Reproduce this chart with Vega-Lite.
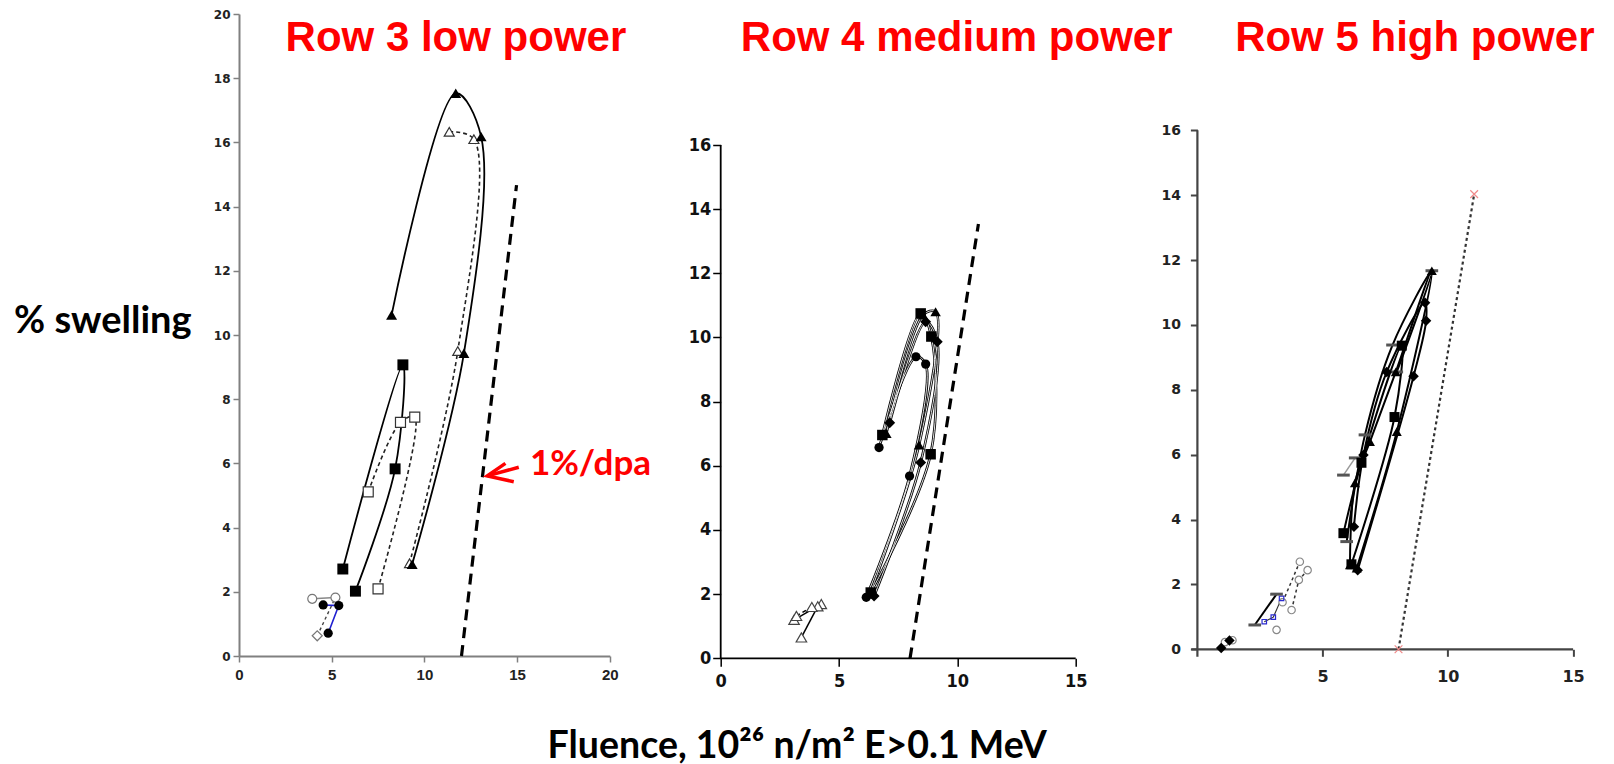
{
  "$schema": "https://vega.github.io/schema/vega-lite/v6.json",
  "background": "white",
  "padding": {"left": 13, "top": 8, "right": 0, "bottom": 0},
  "autosize": {"type": "pad"},
  "config": {"view": {"stroke": null}, "axis": {"grid": false}},
  "bounds": "flush",
  "spacing": 110.7,
  "datasets": {
    "p1": [
      {"s": "ft", "i": 0, "x": 8.23, "y": 10.62},
      {"s": "ft", "i": 1, "x": 11.69, "y": 17.53},
      {"s": "ft", "i": 2, "x": 13.06, "y": 16.18},
      {"s": "ft", "i": 3, "x": 12.13, "y": 9.43},
      {"s": "ft", "i": 4, "x": 9.34, "y": 2.86},
      {"s": "ot", "i": 0, "x": 11.34, "y": 16.33},
      {"s": "ot", "i": 1, "x": 12.67, "y": 16.1},
      {"s": "ot", "i": 2, "x": 11.8, "y": 9.5},
      {"s": "ot", "i": 3, "x": 9.2, "y": 2.89},
      {"s": "fs", "i": 0, "x": 5.6, "y": 2.71},
      {"s": "fs", "i": 1, "x": 8.84, "y": 9.07},
      {"s": "fs", "i": 2, "x": 8.42, "y": 5.83},
      {"s": "fs", "i": 3, "x": 6.28, "y": 2.02},
      {"s": "os", "i": 0, "x": 6.97, "y": 5.11},
      {"s": "os", "i": 1, "x": 8.71, "y": 7.28},
      {"s": "os", "i": 2, "x": 9.48, "y": 7.44},
      {"s": "os", "i": 3, "x": 7.5, "y": 2.09},
      {"s": "fc", "i": 0, "x": 4.54, "y": 1.59},
      {"s": "fc", "i": 1, "x": 5.38, "y": 1.57},
      {"s": "fc", "i": 2, "x": 4.81, "y": 0.71},
      {"s": "oc", "i": 0, "x": 3.95, "y": 1.78},
      {"s": "oc", "i": 1, "x": 5.2, "y": 1.82},
      {"s": "od", "i": 0, "x": 4.22, "y": 0.63},
      {"s": "od", "i": 1, "x": 5.2, "y": 1.82}
    ],
    "p1dpa": [{"x": 12.0, "y": 0}, {"x": 14.97, "y": 14.67}],
    "p1arrow": [
      {"s": "a1", "i": 0, "x": 14.37, "y": 6.0},
      {"s": "a1", "i": 1, "x": 13.39, "y": 5.61},
      {"s": "a1", "i": 2, "x": 14.82, "y": 5.43},
      {"s": "a2", "i": 0, "x": 13.39, "y": 5.61},
      {"s": "a2", "i": 1, "x": 15.09, "y": 5.88}
    ],
    "p1label": [{"x": 15.69, "y": 5.64, "t": "1%/dpa"}],
    "p1title": [{"x": 11.7, "y": 18.86, "t": "Row 3 low power"}],
    "p2title": [{"x": 9.97, "y": 18.94, "t": "Row 4 medium power"}],
    "p3title": [{"x": 8.68, "y": 18.45, "t": "Row 5 high power"}],
    "p2": [
      {"s": "C", "i": 0, "x": 6.69, "y": 6.57},
      {"s": "C", "i": 1, "x": 8.25, "y": 9.4},
      {"s": "C", "i": 2, "x": 8.66, "y": 9.17},
      {"s": "C", "i": 3, "x": 7.98, "y": 5.68},
      {"s": "C", "i": 4, "x": 6.15, "y": 1.9},
      {"s": "S", "i": 0, "x": 6.83, "y": 6.96},
      {"s": "S", "i": 1, "x": 8.45, "y": 10.75},
      {"s": "S", "i": 2, "x": 8.9, "y": 10.03},
      {"s": "S", "i": 3, "x": 8.87, "y": 6.36},
      {"s": "S", "i": 4, "x": 6.34, "y": 2.05},
      {"s": "T", "i": 0, "x": 7.0, "y": 7.01},
      {"s": "T", "i": 1, "x": 8.55, "y": 10.7},
      {"s": "T", "i": 2, "x": 9.08, "y": 10.8},
      {"s": "T", "i": 3, "x": 8.38, "y": 6.65},
      {"s": "T", "i": 4, "x": 6.3, "y": 2.0},
      {"s": "D", "i": 0, "x": 7.14, "y": 7.34},
      {"s": "D", "i": 1, "x": 8.66, "y": 10.49},
      {"s": "D", "i": 2, "x": 9.15, "y": 9.87},
      {"s": "D", "i": 3, "x": 8.45, "y": 6.1},
      {"s": "D", "i": 4, "x": 6.48, "y": 1.94},
      {"s": "ot1", "i": 0, "x": 3.1, "y": 1.2},
      {"s": "ot1", "i": 1, "x": 4.25, "y": 1.69},
      {"s": "ot2", "i": 0, "x": 3.41, "y": 0.65},
      {"s": "ot2", "i": 1, "x": 4.1, "y": 1.62},
      {"s": "ot3", "i": 0, "x": 3.2, "y": 1.32},
      {"s": "ot3", "i": 1, "x": 3.85, "y": 1.6}
    ],
    "p2dpa": [{"x": 8.0, "y": 0}, {"x": 10.89, "y": 13.54}],
    "p2axis": [{"x": 0, "y": 0, "x2": 15, "y2": 0}, {"x": 0, "y": 0, "x2": 0, "y2": 16}],
    "p3": [
      {"s": "Q1", "i": 0, "x": 5.83, "y": 3.58},
      {"s": "Q1", "i": 1, "x": 6.55, "y": 5.75},
      {"s": "Q1", "i": 2, "x": 8.16, "y": 9.36},
      {"s": "Q1", "i": 3, "x": 7.87, "y": 7.16},
      {"s": "Q1", "i": 4, "x": 6.15, "y": 2.62},
      {"s": "Q2", "i": 0, "x": 6.25, "y": 3.78},
      {"s": "Q2", "i": 1, "x": 6.63, "y": 5.99},
      {"s": "Q2", "i": 2, "x": 7.56, "y": 8.55},
      {"s": "Q2", "i": 3, "x": 9.09, "y": 10.68},
      {"s": "Q2", "i": 4, "x": 9.13, "y": 10.13},
      {"s": "Q2", "i": 5, "x": 8.63, "y": 8.42},
      {"s": "Q2", "i": 6, "x": 6.4, "y": 2.44},
      {"s": "Q3", "i": 0, "x": 5.96, "y": 3.32},
      {"s": "Q3", "i": 1, "x": 6.69, "y": 6.61},
      {"s": "Q3", "i": 2, "x": 7.79, "y": 9.38},
      {"s": "Q3", "i": 3, "x": 9.36, "y": 11.67},
      {"s": "Q3", "i": 4, "x": 7.96, "y": 8.55},
      {"s": "Q4", "i": 0, "x": 6.09, "y": 2.6},
      {"s": "Q4", "i": 1, "x": 6.29, "y": 5.13},
      {"s": "Q4", "i": 2, "x": 6.89, "y": 6.4},
      {"s": "Q4", "i": 3, "x": 7.92, "y": 8.55},
      {"s": "Q4", "i": 4, "x": 9.36, "y": 11.67},
      {"s": "Q4", "i": 5, "x": 7.96, "y": 6.71},
      {"s": "Q4", "i": 6, "x": 6.36, "y": 2.5},
      {"s": "Q5", "i": 0, "x": 5.83, "y": 5.37},
      {"s": "Q5", "i": 1, "x": 6.3, "y": 5.9},
      {"s": "L1", "i": 0, "x": 2.29, "y": 0.75},
      {"s": "L1", "i": 1, "x": 3.16, "y": 1.7},
      {"s": "L2", "i": 0, "x": 2.67, "y": 0.85},
      {"s": "L2", "i": 1, "x": 3.03, "y": 0.99},
      {"s": "L2", "i": 2, "x": 3.36, "y": 1.57},
      {"s": "L3", "i": 0, "x": 3.76, "y": 1.21},
      {"s": "L3", "i": 1, "x": 4.05, "y": 2.14},
      {"s": "L3", "i": 2, "x": 4.4, "y": 2.44},
      {"s": "L4", "i": 0, "x": 3.4, "y": 1.45},
      {"s": "L4", "i": 1, "x": 4.09, "y": 2.7},
      {"s": "L5", "i": 0, "x": 3.16, "y": 0.6},
      {"s": "B1", "i": 0, "x": 0.95, "y": 0.04},
      {"s": "B1", "i": 1, "x": 1.28, "y": 0.27},
      {"s": "B2", "i": 0, "x": 1.1, "y": 0.22},
      {"s": "B2", "i": 1, "x": 1.4, "y": 0.28}
    ],
    "p3dpa": [{"x": 8.03, "y": 0}, {"x": 11.05, "y": 14.03}],
    "p3axis": [{"x": -0.24, "y": 0, "x2": 15, "y2": 0}, {"x": 0, "y": -0.23, "x2": 0, "y2": 16}]
  },
  "hconcat": [
    {
      "width": 370.8,
      "height": 642,
      "encoding": {
        "x": {"field": "x", "type": "quantitative", "scale": {"domain": [0, 20], "nice": false, "zero": false},
          "axis": {"values": [0, 5, 10, 15, 20], "title": null, "domainColor": "#808080", "domainWidth": 2, "tickColor": "#808080", "tickWidth": 1.5, "tickSize": 6, "labelFont": "Liberation Sans", "labelFontSize": 15, "labelFontWeight": "bold", "labelColor": "#222", "labelPadding": 5, "labelFlush": false, "labelOverlap": false}},
        "y": {"field": "y", "type": "quantitative", "scale": {"domain": [0, 20], "nice": false, "zero": false},
          "axis": {"values": [0, 2, 4, 6, 8, 10, 12, 14, 16, 18, 20], "title": "% swelling", "titleAngle": 0, "titleAlign": "left", "titleBaseline": "alphabetic", "titleX": -225.5, "titleY": 318.7, "titleFont": "Lato", "titleFontSize": 38, "titleFontWeight": "bold", "titleColor": "black", "domainColor": "#808080", "domainWidth": 2, "tickColor": "#808080", "tickWidth": 1.5, "tickSize": 6, "labelFont": "DejaVu Sans", "labelFontSize": 12, "labelFontWeight": "bold", "labelColor": "#222", "labelPadding": 3, "labelFlush": false, "labelOverlap": false}}
      },
      "layer": [
        {"data": {"name": "p1dpa"}, "mark": {"type": "line", "color": "black", "strokeWidth": 3.2, "strokeDash": [11, 7]}, "encoding": {}},
        {"data": {"name": "p1"}, "transform": [{"filter": {"field": "s", "oneOf": ["ft", "fs"]}}],
          "mark": {"type": "line", "interpolate": "catmull-rom", "color": "black", "strokeWidth": 1.8},
          "encoding": {"detail": {"field": "s", "type": "nominal"}, "order": {"field": "i", "type": "quantitative"}}},
        {"data": {"name": "p1"}, "transform": [{"filter": {"field": "s", "oneOf": ["ot", "os"]}}],
          "mark": {"type": "line", "interpolate": "catmull-rom", "color": "#222", "strokeWidth": 1.6, "strokeDash": [4, 3]},
          "encoding": {"detail": {"field": "s", "type": "nominal"}, "order": {"field": "i", "type": "quantitative"}}},
        {"data": {"name": "p1"}, "transform": [{"filter": {"field": "s", "equal": "fc"}}],
          "mark": {"type": "line", "color": "#2020d0", "strokeWidth": 1.6},
          "encoding": {"order": {"field": "i", "type": "quantitative"}}},
        {"data": {"name": "p1"}, "transform": [{"filter": {"field": "s", "equal": "oc"}}],
          "mark": {"type": "line", "color": "#888", "strokeWidth": 1.5},
          "encoding": {"order": {"field": "i", "type": "quantitative"}}},
        {"data": {"name": "p1"}, "transform": [{"filter": {"field": "s", "equal": "od"}}],
          "mark": {"type": "line", "color": "#444", "strokeWidth": 1.4, "strokeDash": [3, 3]},
          "encoding": {"order": {"field": "i", "type": "quantitative"}}},
        {"data": {"name": "p1"}, "transform": [{"filter": {"field": "s", "equal": "ot"}}],
          "mark": {"type": "point", "shape": "triangle-up", "filled": true, "fill": "white", "stroke": "#333", "strokeWidth": 1.2, "size": 100, "opacity": 1}},
        {"data": {"name": "p1"}, "transform": [{"filter": {"field": "s", "equal": "os"}}],
          "mark": {"type": "point", "shape": "square", "filled": true, "fill": "white", "stroke": "#333", "strokeWidth": 1.2, "size": 100, "opacity": 1}},
        {"data": {"name": "p1"}, "transform": [{"filter": {"field": "s", "equal": "oc"}}],
          "mark": {"type": "point", "shape": "circle", "filled": true, "fill": "white", "stroke": "#777", "strokeWidth": 1.2, "size": 80, "opacity": 1}},
        {"data": {"name": "p1"}, "transform": [{"filter": "datum.s == 'od' && datum.i == 0"}],
          "mark": {"type": "point", "shape": "diamond", "filled": true, "fill": "white", "stroke": "#777", "strokeWidth": 1.2, "size": 100, "opacity": 1}},
        {"data": {"name": "p1"}, "transform": [{"filter": {"field": "s", "equal": "ft"}}],
          "mark": {"type": "point", "shape": "triangle-up", "filled": true, "color": "black", "size": 120, "opacity": 1}},
        {"data": {"name": "p1"}, "transform": [{"filter": {"field": "s", "equal": "fs"}}],
          "mark": {"type": "point", "shape": "square", "filled": true, "color": "black", "size": 120, "opacity": 1}},
        {"data": {"name": "p1"}, "transform": [{"filter": {"field": "s", "equal": "fc"}}],
          "mark": {"type": "point", "shape": "circle", "filled": true, "color": "black", "size": 85, "opacity": 1}},
        {"data": {"name": "p1arrow"}, "mark": {"type": "line", "color": "#FF0000", "strokeWidth": 3.5, "strokeJoin": "miter"},
          "encoding": {"detail": {"field": "s", "type": "nominal"}, "order": {"field": "i", "type": "quantitative"}}},
        {"data": {"name": "p1label"}, "mark": {"type": "text", "align": "left", "baseline": "alphabetic", "font": "Lato", "fontSize": 35, "fontWeight": "bold", "color": "#FF0000"},
          "encoding": {"text": {"field": "t", "type": "nominal"}}},
        {"data": {"name": "p1title"}, "mark": {"type": "text", "align": "center", "baseline": "alphabetic", "font": "Liberation Sans", "fontSize": 42, "fontWeight": "bold", "color": "#FF0000"},
          "encoding": {"text": {"field": "t", "type": "nominal"}}}
      ]
    },
    {
      "width": 365.3,
      "height": 644.3,
      "encoding": {
        "x": {"field": "x", "type": "quantitative", "scale": {"domain": [0, 15.435], "nice": false, "zero": false},
          "axis": {"values": [0, 5, 10, 15], "domain": false, "title": "Fluence, 10²⁶ n/m² E>0.1 MeV", "titleX": 76, "titleY": 98.7, "titleAlign": "center", "titleBaseline": "alphabetic", "titleAngle": 0, "titleFont": "Lato", "titleFontSize": 37.5, "titleFontWeight": "bold", "titleColor": "black", "tickColor": "black", "tickWidth": 1.5, "tickSize": 8, "labelFont": "Liberation Sans Narrow, DejaVu Sans Condensed, Liberation Sans", "labelFontSize": 18, "labelFontWeight": "bold", "labelColor": "#111", "labelPadding": 6, "labelFlush": false, "labelOverlap": false}},
        "y": {"field": "y", "type": "quantitative", "scale": {"domain": [0, 20.084], "nice": false, "zero": false},
          "axis": {"values": [0, 2, 4, 6, 8, 10, 12, 14, 16], "domain": false, "title": null, "tickColor": "black", "tickWidth": 1.5, "tickSize": 8, "labelFont": "Liberation Sans Narrow, DejaVu Sans Condensed, Liberation Sans", "labelFontSize": 18, "labelFontWeight": "bold", "labelColor": "#111", "labelPadding": 2, "labelFlush": false, "labelOverlap": false}}
      },
      "layer": [
        {"data": {"name": "p2axis"}, "mark": {"type": "rule", "color": "black", "strokeWidth": 1.8},
          "encoding": {"x2": {"field": "x2"}, "y2": {"field": "y2"}}},
        {"data": {"name": "p2dpa"}, "mark": {"type": "line", "color": "black", "strokeWidth": 3.2, "strokeDash": [11, 7]}, "encoding": {}},
        {"data": {"name": "p2"}, "transform": [{"filter": {"field": "s", "oneOf": ["C", "S", "T", "D"]}}],
          "mark": {"type": "line", "interpolate": "catmull-rom", "color": "black", "strokeWidth": 2.6},
          "encoding": {"detail": {"field": "s", "type": "nominal"}, "order": {"field": "i", "type": "quantitative"}}},
        {"data": {"name": "p2"}, "transform": [{"filter": {"field": "s", "oneOf": ["C", "S", "T", "D"]}}],
          "mark": {"type": "line", "interpolate": "catmull-rom", "color": "white", "strokeWidth": 0.9},
          "encoding": {"detail": {"field": "s", "type": "nominal"}, "order": {"field": "i", "type": "quantitative"}}},
        {"data": {"name": "p2"}, "transform": [{"filter": {"field": "s", "oneOf": ["ot1", "ot2"]}}],
          "mark": {"type": "line", "color": "black", "strokeWidth": 1.5},
          "encoding": {"detail": {"field": "s", "type": "nominal"}, "order": {"field": "i", "type": "quantitative"}}},
        {"data": {"name": "p2"}, "transform": [{"filter": {"field": "s", "equal": "ot3"}}],
          "mark": {"type": "line", "color": "black", "strokeWidth": 1.5, "strokeDash": [4, 3]},
          "encoding": {"order": {"field": "i", "type": "quantitative"}}},
        {"data": {"name": "p2"}, "transform": [{"filter": {"field": "s", "oneOf": ["ot1", "ot2", "ot3"]}}],
          "mark": {"type": "point", "shape": "triangle-up", "filled": true, "fill": "white", "stroke": "#444", "strokeWidth": 1.2, "size": 110, "opacity": 1}},
        {"data": {"name": "p2"}, "transform": [{"filter": {"field": "s", "equal": "C"}}],
          "mark": {"type": "point", "shape": "circle", "filled": true, "color": "black", "size": 85, "opacity": 1}},
        {"data": {"name": "p2"}, "transform": [{"filter": {"field": "s", "equal": "S"}}],
          "mark": {"type": "point", "shape": "square", "filled": true, "color": "black", "size": 110, "opacity": 1}},
        {"data": {"name": "p2"}, "transform": [{"filter": {"field": "s", "equal": "T"}}],
          "mark": {"type": "point", "shape": "triangle-up", "filled": true, "color": "black", "size": 110, "opacity": 1}},
        {"data": {"name": "p2"}, "transform": [{"filter": {"field": "s", "equal": "D"}}],
          "mark": {"type": "point", "shape": "diamond", "filled": true, "color": "black", "size": 120, "opacity": 1}},
        {"data": {"name": "p2title"}, "mark": {"type": "text", "align": "center", "baseline": "alphabetic", "font": "Liberation Sans", "fontSize": 42, "fontWeight": "bold", "color": "#FF0000"},
          "encoding": {"text": {"field": "t", "type": "nominal"}}}
      ]
    },
    {
      "width": 375.7,
      "height": 635.3,
      "encoding": {
        "x": {"field": "x", "type": "quantitative", "scale": {"domain": [0, 15], "nice": false, "zero": false},
          "axis": {"values": [5, 10, 15], "domain": false, "title": null, "tickColor": "#444", "tickWidth": 2, "tickSize": 7, "labelFont": "DejaVu Sans", "labelFontSize": 16, "labelFontWeight": "bold", "labelColor": "#222", "labelPadding": 12, "labelFlush": false, "labelOverlap": false}},
        "y": {"field": "y", "type": "quantitative", "scale": {"domain": [0, 19.584], "nice": false, "zero": false},
          "axis": {"values": [0, 2, 4, 6, 8, 10, 12, 14, 16], "domain": false, "title": null, "tickColor": "#444", "tickWidth": 2, "tickSize": 7, "labelFont": "DejaVu Sans", "labelFontSize": 14, "labelFontWeight": "bold", "labelColor": "#222", "labelPadding": 10, "labelFlush": false, "labelOverlap": false}}
      },
      "layer": [
        {"data": {"name": "p3axis"}, "mark": {"type": "rule", "color": "#444", "strokeWidth": 2.2},
          "encoding": {"x2": {"field": "x2"}, "y2": {"field": "y2"}}},
        {"data": {"name": "p3dpa"}, "mark": {"type": "line", "color": "#333", "strokeWidth": 2.2, "strokeDash": [3, 3]}, "encoding": {}},
        {"data": {"name": "p3dpa"}, "mark": {"type": "point", "shape": "M-1,-1L1,1M-1,1L1,-1", "filled": false, "stroke": "#f08a8a", "strokeWidth": 1.2, "size": 60, "opacity": 1}},
        {"data": {"name": "p3"}, "transform": [{"filter": {"field": "s", "oneOf": ["Q1", "Q2", "Q3", "Q4", "L1", "B1"]}}],
          "mark": {"type": "line", "interpolate": "catmull-rom", "color": "black", "strokeWidth": 2},
          "encoding": {"detail": {"field": "s", "type": "nominal"}, "order": {"field": "i", "type": "quantitative"}}},
        {"data": {"name": "p3"}, "transform": [{"filter": {"field": "s", "oneOf": ["Q5", "B2"]}}],
          "mark": {"type": "line", "color": "#999", "strokeWidth": 1.5},
          "encoding": {"detail": {"field": "s", "type": "nominal"}, "order": {"field": "i", "type": "quantitative"}}},
        {"data": {"name": "p3"}, "transform": [{"filter": {"field": "s", "equal": "L2"}}],
          "mark": {"type": "line", "color": "#333", "strokeWidth": 1.2},
          "encoding": {"order": {"field": "i", "type": "quantitative"}}},
        {"data": {"name": "p3"}, "transform": [{"filter": {"field": "s", "oneOf": ["L3", "L4"]}}],
          "mark": {"type": "line", "color": "#333", "strokeWidth": 1.5, "strokeDash": [3, 3]},
          "encoding": {"detail": {"field": "s", "type": "nominal"}, "order": {"field": "i", "type": "quantitative"}}},
        {"data": {"name": "p3"}, "transform": [{"filter": {"field": "s", "oneOf": ["L3", "L4", "L5", "B2"]}}],
          "mark": {"type": "point", "shape": "circle", "filled": true, "fill": "white", "stroke": "#888", "strokeWidth": 1.2, "size": 55, "opacity": 1}},
        {"data": {"name": "p3"}, "transform": [{"filter": {"field": "s", "equal": "L2"}}],
          "mark": {"type": "point", "shape": "square", "filled": false, "stroke": "#2a2ad0", "strokeWidth": 1.2, "size": 20, "opacity": 1}},
        {"data": {"name": "p3"}, "transform": [{"filter": {"field": "s", "oneOf": ["Q3", "Q5", "L1"]}}],
          "mark": {"type": "point", "shape": "stroke", "filled": false, "stroke": "#555", "strokeWidth": 3, "size": 160, "opacity": 1}},
        {"data": {"name": "p3"}, "transform": [{"filter": {"field": "s", "equal": "Q1"}}],
          "mark": {"type": "point", "shape": "square", "filled": true, "color": "black", "size": 100, "opacity": 1}},
        {"data": {"name": "p3"}, "transform": [{"filter": {"field": "s", "oneOf": ["Q2", "B1"]}}],
          "mark": {"type": "point", "shape": "diamond", "filled": true, "color": "black", "size": 110, "opacity": 1}},
        {"data": {"name": "p3"}, "transform": [{"filter": {"field": "s", "equal": "Q4"}}],
          "mark": {"type": "point", "shape": "triangle-up", "filled": true, "color": "black", "size": 100, "opacity": 1}},
        {"data": {"name": "p3title"}, "mark": {"type": "text", "align": "center", "baseline": "alphabetic", "font": "Liberation Sans", "fontSize": 42, "fontWeight": "bold", "color": "#FF0000"},
          "encoding": {"text": {"field": "t", "type": "nominal"}}}
      ]
    }
  ]
}
